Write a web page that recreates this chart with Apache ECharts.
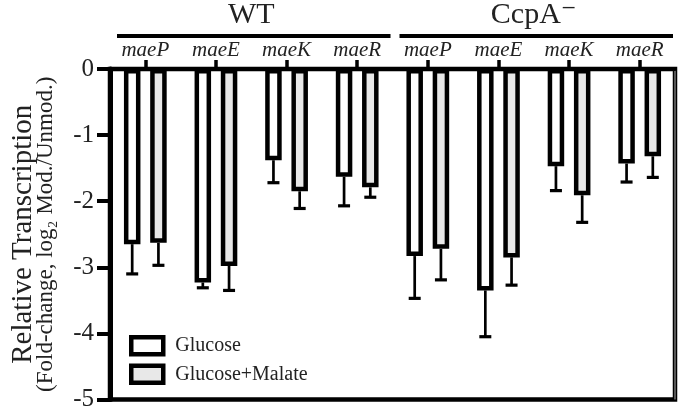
<!DOCTYPE html>
<html>
<head>
<meta charset="utf-8">
<script src="https://cdn.jsdelivr.net/npm/echarts@6/dist/echarts.min.js"></script>
<style>
  html, body { margin: 0; padding: 0; background: #fff; }
  #chart { width: 680px; height: 412px; }
</style>
</head>
<body>
<div id="chart"></div>
<script>
// values (log2 fold change), WT first then CcpA-
const strains = ['WT', 'CcpA⁻'];
const genes = ['maeP', 'maeE', 'maeK', 'maeR'];
const glucose = [-2.65, -3.23, -1.38, -1.63, -2.83, -3.35, -1.47, -1.43];
const glucoseMalate = [-2.63, -2.98, -1.85, -1.79, -2.72, -2.85, -1.91, -1.32];
const glucoseErr = [0.45, 0.08, 0.34, 0.44, 0.64, 0.70, 0.37, 0.28];
const glucoseMalateErr = [0.34, 0.37, 0.26, 0.15, 0.47, 0.42, 0.41, 0.32];

const categories = strains.flatMap(() => genes);
const FONT = "'Liberation Serif', 'DejaVu Serif', serif";
const BAR_W = 16.5;
const BAR_GAP = 0.59;

const errorSeries = (name, values, errs, side) => ({
  name: name,
  type: 'custom',
  xAxisIndex: 0,
  yAxisIndex: 0,
  z: 5,
  data: values.map((v, i) => [i, v, v - errs[i]]),
  renderItem: (params, api) => {
    const i = api.value(0);
    const top = api.coord([i, api.value(1)]);
    const bot = api.coord([i, api.value(2)]);
    const cx = top[0] + side * BAR_W * (1 + BAR_GAP) / 2;
    return {
      type: 'group',
      children: [
        { type: 'line', shape: { x1: cx, y1: top[1], x2: cx, y2: bot[1] }, style: { stroke: '#000', lineWidth: 2.7 } },
        { type: 'line', shape: { x1: cx - 6, y1: bot[1], x2: cx + 6, y2: bot[1] }, style: { stroke: '#000', lineWidth: 3.2 } }
      ]
    };
  }
});

const chart = echarts.init(document.getElementById('chart'));
chart.setOption({
  animation: false,
  textStyle: { fontFamily: FONT },
  grid: [
    { left: 110, right: 5, top: 69, bottom: 11, show: true, borderColor: '#000', borderWidth: 4.5 },
    { left: 110, right: 5, top: 34, height: 2 }
  ],
  legend: {
    data: ['Glucose', 'Glucose+Malate'],
    orient: 'vertical',
    left: 129,
    top: 335,
    padding: 0,
    icon: 'rect',
    itemWidth: 32,
    itemHeight: 17,
    itemGap: 7,
    itemStyle: { borderColor: '#000', borderWidth: 4.5 },
    textStyle: { fontFamily: FONT, fontSize: 20, color: '#222', padding: [0, 0, 0, 7] }
  },
  xAxis: [
    {
      gridIndex: 0,
      type: 'category',
      data: categories,
      position: 'bottom',
      axisLine: { show: false },
      axisTick: { show: false },
      axisLabel: { show: false },
      splitLine: { show: true, interval: (idx) => idx === 4, lineStyle: { color: '#555', width: 2 } }
    },
    {
      gridIndex: 0,
      type: 'category',
      data: categories,
      position: 'top',
      axisLine: { show: true, lineStyle: { color: '#000', width: 4 } },
      axisTick: { show: true, alignWithLabel: true, length: 9, lineStyle: { color: '#000', width: 3.5 } },
      axisLabel: { interval: 0, margin: 8, fontFamily: FONT, fontStyle: 'italic', fontSize: 21, color: '#222' }
    },
    {
      gridIndex: 1,
      type: 'category',
      data: strains,
      position: 'top',
      axisLine: { show: false },
      axisTick: { show: false },
      axisLabel: { interval: 0, margin: 6, fontFamily: FONT, fontSize: 30, color: '#222' }
    }
  ],
  yAxis: [
    {
      gridIndex: 0,
      type: 'value',
      min: -5,
      max: 0,
      interval: 1,
      axisLine: { show: true, lineStyle: { color: '#000', width: 5 } },
      axisTick: { show: true, length: 13, lineStyle: { color: '#000', width: 4 } },
      axisLabel: { margin: 16, fontFamily: FONT, fontSize: 25, color: '#222' },
      splitLine: { show: false },
      name: '{a|Relative Transcription}\n{b|(Fold-change, log₂ Mod./Unmod.)}',
      nameLocation: 'middle',
      nameRotate: 90,
      nameGap: 54,
      nameTextStyle: {
        rich: {
          a: { fontFamily: FONT, fontSize: 29, lineHeight: 25, color: '#222' },
          b: { fontFamily: FONT, fontSize: 23, lineHeight: 20, color: '#222' }
        }
      }
    },
    { gridIndex: 1, type: 'value', min: 0, max: 1, show: false }
  ],
  series: [
    {
      name: 'Glucose',
      type: 'bar',
      xAxisIndex: 0,
      yAxisIndex: 0,
      data: glucose,
      barWidth: BAR_W,
      barGap: (BAR_GAP * 100) + '%',
      itemStyle: { color: '#ffffff', borderColor: '#000', borderWidth: 4.5 }
    },
    {
      name: 'Glucose+Malate',
      type: 'bar',
      xAxisIndex: 0,
      yAxisIndex: 0,
      data: glucoseMalate,
      barWidth: BAR_W,
      barGap: (BAR_GAP * 100) + '%',
      itemStyle: { color: '#e8e8e8', borderColor: '#000', borderWidth: 4.5 }
    },
    errorSeries('errGlucose', glucose, glucoseErr, -1),
    errorSeries('errGlucoseMalate', glucoseMalate, glucoseMalateErr, 1),
    {
      // strain group underlines
      name: 'groups',
      type: 'custom',
      xAxisIndex: 2,
      yAxisIndex: 1,
      data: strains.map((s, i) => [i, 0]),
      renderItem: (params, api) => {
        const c = api.coord([api.value(0), 0]);
        const w = api.size([1, 0])[0];
        const y = params.coordSys.y;
        return {
          type: 'line',
          shape: { x1: c[0] - w / 2 + 7, y1: y, x2: c[0] + w / 2 - 2, y2: y },
          style: { stroke: '#000', lineWidth: 4 }
        };
      }
    }
  ]
});
</script>
</body>
</html>
